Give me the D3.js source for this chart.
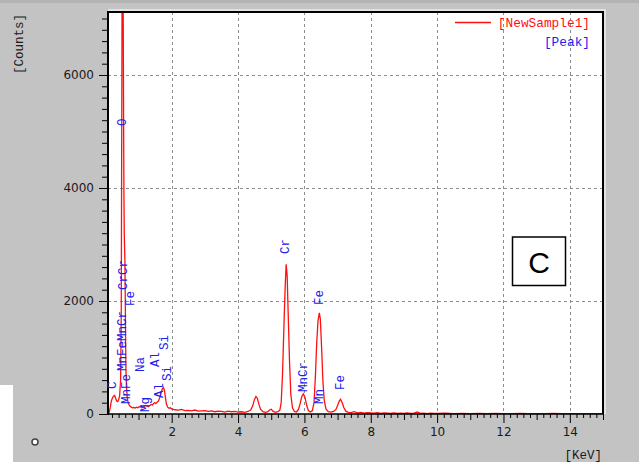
<!DOCTYPE html>
<html>
<head>
<meta charset="utf-8">
<script src="https://cdn.jsdelivr.net/npm/d3@7"></script>
<style>
body { margin: 0; background: #c3c3c3; }
svg { display: block; }
</style>
</head>
<body>
<script>

// spectrum, keV / counts
var energy = [0.08, 0.10, 0.12, 0.15, 0.18, 0.20, 0.22, 0.25, 0.28, 0.31, 0.34, 0.37, 0.40, 0.43, 0.46,
	0.48, 0.49, 0.50, 0.51, 0.52, 0.53, 0.54, 0.55, 0.56, 0.57, 0.58, 0.59, 0.60, 0.61, 0.62, 0.64, 0.66, 0.68,
	0.70, 0.74, 0.78, 0.82, 0.86, 0.90, 0.94, 0.98, 1.02, 1.06, 1.10, 1.14, 1.18, 1.22, 1.26, 1.30, 1.34, 1.38,
	1.42, 1.46, 1.49, 1.52, 1.56, 1.60, 1.64, 1.68, 1.72, 1.75, 1.78, 1.81, 1.84, 1.88, 1.92, 1.96,
	2.0, 2.1, 2.2, 2.3, 2.4, 2.5, 2.6, 2.7, 2.8, 2.9, 3.0, 3.1, 3.2, 3.3, 3.4, 3.5, 3.6, 3.7, 3.8, 3.9, 4.0, 4.1, 4.2, 4.3,
	4.38, 4.44, 4.49, 4.54, 4.58, 4.63, 4.68, 4.75, 4.82, 4.90, 4.95, 5.00, 5.05, 5.12, 5.20, 5.26,
	5.30, 5.34, 5.38, 5.42, 5.45, 5.48, 5.51, 5.55, 5.59, 5.64, 5.70, 5.76, 5.82, 5.87, 5.92, 5.97, 6.02, 6.07, 6.12, 6.18,
	6.24, 6.29, 6.33, 6.37, 6.41, 6.45, 6.48, 6.52, 6.56, 6.60, 6.65, 6.72, 6.80, 6.88, 6.95, 7.00, 7.05, 7.09, 7.14, 7.19,
	7.25, 7.32, 7.4, 7.5, 7.6, 7.7, 7.8, 7.9, 8.0, 8.1, 8.2, 8.3, 8.4, 8.5, 8.6, 8.7, 8.8, 8.9, 9.0, 9.1, 9.2, 9.3, 9.4,
	9.5, 9.6, 9.7, 9.8, 9.9, 10.0, 10.25, 10.5, 10.75, 11.0, 11.25, 11.5, 11.75, 12.0, 12.25, 12.5, 12.75, 13.0,
	13.25, 13.5, 13.75, 14.0, 14.25, 14.5, 14.75, 15.0];

var counts = [0, 10, 40, 120, 230, 260, 290, 320, 330, 280, 230, 220, 250, 320, 600,
	1800, 4200, 6300, 9500, 9800, 8600, 6800, 5200, 3900, 3200, 2950, 2700, 2100, 1300, 800, 450, 300, 220,
	180, 140, 120, 110, 115, 105, 120, 110, 130, 125, 110, 120, 140, 150, 140, 130, 150, 170,
	160, 190, 200, 185, 210, 230, 290, 380, 450, 470, 420, 300, 180, 120, 100, 110,
	90, 75, 70, 80, 60, 65, 55, 70, 50, 55, 60, 45, 55, 40, 50, 45, 35, 50, 40, 45, 35, 40, 30, 45,
	70, 140, 250, 310, 280, 170, 80, 40, 30, 40, 70, 85, 50, 30, 40, 70,
	200, 700, 1500, 2250, 2650, 2450, 1800, 950, 350, 110, 45, 35, 80, 180, 310, 355, 290, 150, 60, 35,
	60, 200, 650, 1250, 1650, 1790, 1680, 1150, 550, 230, 90, 40, 35, 45, 80, 150, 230, 260, 200, 110,
	50, 30, 25, 40, 20, 30, 15, 25, 20, 15, 25, 10, 20, 15, 10, 20, 10, 15, 10, 20, 10, 15, 35,
	10, 15, 5, 15, 10, 10, 15, 5, 10, 8, 12, 5, 10, 8, 5, 10, 5, 8,
	5, 10, 5, 8, 5, 8, 5, 5];

// peak markers
var peakNames = ["C", "O", "MnFe", "MnFeMnCr", "Fe", "CrCr", "Na", "Mg", "Al", "Al", "Si", "Si",
	"Cr", "MnCr", "Fe", "Mn", "Fe"];
var peakEnergy = [0.231, 0.547, 0.665, 0.547, 0.788, 0.577, 1.077, 1.212, 1.533, 1.654, 1.789, 1.880,
	5.434, 5.977, 6.464, 6.479, 7.112];
var peakCount = [442, 5097, 177, 761, 1912, 2195, 743, 35, 832, 283, 1133, 584,
	2832, 389, 1929, 177, 425];

var xTickLabels = [2, 4, 6, 8, 10, 12, 14];
var yTickLabels = [0, 2000, 4000, 6000];


var width = 639;
var height = 462;

var plot_left = 108,
	plot_right = 603,
	plot_top = 12,
	plot_bottom = 414;

var svgContainer = d3.select("body").append("svg")
	.attr("width", width)
	.attr("height", height);

svgContainer.append("rect")
	.attr("width", width).attr("height", height)
	.attr("fill", "#c3c3c3");
svgContainer.append("rect")
	.attr("width", width).attr("height", 3)
	.attr("fill", "#b3b3b3");
svgContainer.append("rect")
	.attr("x", 0).attr("y", 385).attr("width", 13).attr("height", height - 385)
	.attr("fill", "#ffffff");

var x = d3.scaleLinear().domain([0.08, 15]).range([plot_left, plot_right]);
var y = d3.scaleLinear().domain([0, 7115]).range([plot_bottom, plot_top]);

// plot background + shadow
svgContainer.append("path")
	.attr("d", "M" + (plot_left) + "," + (plot_top - 2) + "H" + (plot_right + 2) + "V" + plot_bottom)
	.attr("fill", "none")
	.attr("stroke", "#e2e2e2")
	.attr("stroke-width", 2);

svgContainer.append("rect")
	.attr("x", plot_left)
	.attr("y", plot_top)
	.attr("width", plot_right - plot_left)
	.attr("height", plot_bottom - plot_top)
	.attr("fill", "#ffffff");

svgContainer.append("clipPath").attr("id", "clip")
	.append("rect")
	.attr("x", plot_left)
	.attr("y", plot_top)
	.attr("width", plot_right - plot_left)
	.attr("height", plot_bottom - plot_top);

// dashed grid
svgContainer.append("g")
	.selectAll("line")
	.data(xTickLabels)
	.enter()
	.append("line")
	.attr("x1", function(d) { return Math.round(x(d)) + 0.5; })
	.attr("x2", function(d) { return Math.round(x(d)) + 0.5; })
	.attr("y1", plot_top)
	.attr("y2", plot_bottom)
	.attr("stroke", "#8c8c8c")
	.attr("stroke-dasharray", "3,3");

svgContainer.append("g")
	.selectAll("line")
	.data(yTickLabels.slice(1))
	.enter()
	.append("line")
	.attr("x1", plot_left)
	.attr("x2", plot_right)
	.attr("y1", function(d) { return Math.round(y(d)) + 0.5; })
	.attr("y2", function(d) { return Math.round(y(d)) + 0.5; })
	.attr("stroke", "#8c8c8c")
	.attr("stroke-dasharray", "3,3");

// spectrum
var line = d3.line()
	.x(function(d, i) { return x(energy[i]); })
	.y(function(d) { return y(d); });

svgContainer.append("path")
	.datum(counts)
	.attr("clip-path", "url(#clip)")
	.attr("d", line)
	.attr("fill", "none")
	.attr("stroke", "#ff1010")
	.attr("stroke-width", 1.3);

// axes
var xMinor = d3.range(0.2, 15.01, 0.2).map(function(d) { return Math.round(d * 10) / 10; });

var xAxis = d3.axisBottom(x)
	.tickValues(xMinor)
	.tickSize(4)
	.tickFormat("");

svgContainer.append("g")
	.attr("transform", "translate(0," + plot_bottom + ")")
	.call(xAxis)
	.call(function(g) {
		g.select(".domain").remove();
		g.selectAll(".tick line")
			.attr("stroke", "#000")
			.attr("y2", function(d) {
				if (d % 2 === 0) return 9;
				if (d % 1 === 0) return 6;
				return 4;
			});
	});

svgContainer.append("g")
	.attr("transform", "translate(0," + (plot_bottom + 10) + ")")
	.call(d3.axisBottom(x).tickValues(xTickLabels).tickSize(0).tickPadding(3))
	.call(function(g) {
		g.select(".domain").remove();
		g.selectAll("text")
			.attr("font-family", "DejaVu Sans")
			.attr("font-size", 12)
			.attr("fill", "#1a1a1a");
	});

var yMinor = d3.range(0, 7001, 200);

svgContainer.append("g")
	.attr("transform", "translate(" + plot_left + ",0)")
	.call(d3.axisLeft(y).tickValues(yMinor).tickSize(6).tickFormat(""))
	.call(function(g) {
		g.select(".domain").remove();
		g.selectAll(".tick line")
			.attr("stroke", "#000")
			.attr("x2", function(d) { return d % 2000 === 0 ? -9 : -6; });
	});

svgContainer.append("g")
	.attr("transform", "translate(" + (plot_left - 11) + ",0)")
	.call(d3.axisLeft(y).tickValues(yTickLabels).tickSize(0).tickPadding(3).tickFormat(d3.format("d")))
	.call(function(g) {
		g.select(".domain").remove();
		g.selectAll("text")
			.attr("font-family", "DejaVu Sans")
			.attr("font-size", 12)
			.attr("fill", "#1a1a1a");
	});

// frame
svgContainer.append("line")
	.attr("x1", plot_left).attr("x2", plot_left)
	.attr("y1", plot_top - 1).attr("y2", plot_bottom + 1)
	.attr("stroke", "#000").attr("stroke-width", 2);
svgContainer.append("line")
	.attr("x1", plot_left).attr("x2", plot_right + 1)
	.attr("y1", plot_bottom).attr("y2", plot_bottom)
	.attr("stroke", "#000").attr("stroke-width", 1.5);
svgContainer.append("path")
	.attr("d", "M" + plot_left + "," + plot_top + "H" + plot_right + "V" + plot_bottom)
	.attr("fill", "none")
	.attr("stroke", "#000")
	.attr("stroke-width", 2);

// peak labels
svgContainer.append("g")
	.selectAll("text")
	.data(peakNames)
	.enter()
	.append("text")
	.attr("transform", function(d, i) {
		return "translate(" + x(peakEnergy[i]) + "," + y(peakCount[i]) + ") rotate(-90)";
	})
	.attr("dominant-baseline", "central")
	.attr("font-family", "Liberation Mono")
	.attr("font-size", 12.5)
	.attr("fill", "#2020ee")
	.text(function(d) { return d; });

// axis titles
svgContainer.append("text")
	.attr("transform", "translate(20,44) rotate(-90)")
	.attr("text-anchor", "middle")
	.attr("dominant-baseline", "central")
	.attr("font-family", "Liberation Mono")
	.attr("font-size", 12.5)
	.attr("fill", "#1a1a1a")
	.text("[Counts]");

svgContainer.append("text")
	.attr("x", 602)
	.attr("y", 456)
	.attr("text-anchor", "end")
	.attr("dominant-baseline", "central")
	.attr("font-family", "Liberation Mono")
	.attr("font-size", 12.5)
	.attr("fill", "#1a1a1a")
	.text("[KeV]");

// legend
svgContainer.append("line")
	.attr("x1", 455).attr("x2", 491)
	.attr("y1", 22.5).attr("y2", 22.5)
	.attr("stroke", "#ff1010").attr("stroke-width", 1.3);
svgContainer.append("text")
	.attr("x", 590).attr("y", 23)
	.attr("text-anchor", "end")
	.attr("dominant-baseline", "central")
	.attr("font-family", "Liberation Mono")
	.attr("font-size", 12.8)
	.attr("fill", "#ff1010")
	.text("[NewSample1]");
svgContainer.append("text")
	.attr("x", 590).attr("y", 42)
	.attr("text-anchor", "end")
	.attr("dominant-baseline", "central")
	.attr("font-family", "Liberation Mono")
	.attr("font-size", 12.8)
	.attr("fill", "#2020ee")
	.text("[Peak]");

// panel letter
svgContainer.append("rect")
	.attr("x", 512.5).attr("y", 237)
	.attr("width", 53).attr("height", 48.5)
	.attr("fill", "#ffffff")
	.attr("stroke", "#000")
	.attr("stroke-width", 1.5);
svgContainer.append("text")
	.attr("x", 539).attr("y", 262)
	.attr("text-anchor", "middle")
	.attr("dominant-baseline", "central")
	.attr("font-family", "Liberation Sans")
	.attr("font-size", 30)
	.attr("fill", "#000")
	.text("C");

// small icon bottom left
svgContainer.append("circle")
	.attr("cx", 35).attr("cy", 442).attr("r", 3)
	.attr("fill", "#ffffff")
	.attr("stroke", "#444").attr("stroke-width", 1.5);

</script>
</body>
</html>
